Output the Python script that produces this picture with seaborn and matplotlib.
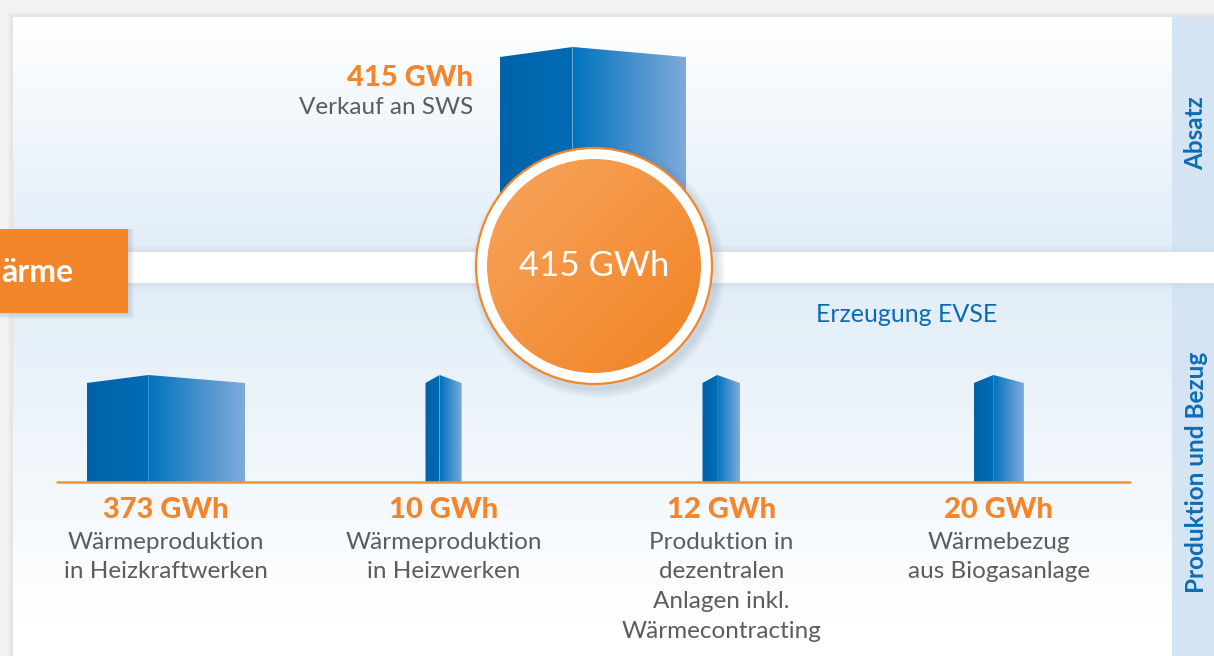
import numpy as np
import seaborn as sns
import matplotlib.pyplot as plt
from matplotlib.colors import to_rgb
from matplotlib.patches import Rectangle, Circle, Polygon

# data
sales_label = "Verkauf an SWS"
sales_value = 415
source_names = ["Heizkraftwerke", "Heizwerke", "Dezentral", "Biogas"]
source_labels = ["Wärmeproduktion\nin Heizkraftwerken",
                 "Wärmeproduktion\nin Heizwerken",
                 "Produktion in\ndezentralen\nAnlagen inkl.\nWärmecontracting",
                 "Wärmebezug\naus Biogasanlage"]
source_values = [373, 10, 12, 20]
unit = "GWh"

# styles
bar_widths = [0.57, 0.13, 0.135, 0.18]
ORANGE = "#f3862b"
BLUE_TXT = "#0a6cb5"
GRAY_TXT = "#5c5c5c"
W, H = 1214, 656

sns.set_theme(style="white")
plt.rcParams["font.family"] = ["Lato", "DejaVu Sans"]

fig = plt.figure(figsize=(W / 100, H / 100), dpi=100)
fig.patch.set_facecolor("#f3f3f3")


def px_axes(x0, y0, x1, y1):
    return fig.add_axes([x0 / W, 1 - y1 / H, (x1 - x0) / W, (y1 - y0) / H])


def grad(c0, c1, n=256, horizontal=False):
    a, b = np.array(to_rgb(c0)), np.array(to_rgb(c1))
    t = np.linspace(0, 1, n)[:, None]
    g = a + (b - a) * t
    return g[None, :, :] if horizontal else g[:, None, :]


bg = fig.add_axes([0, 0, 1, 1])
bg.set_xlim(0, W)
bg.set_ylim(H, 0)
bg.set_axis_off()

# panel shadow
for k in range(6):
    bg.add_patch(Rectangle((13 - k, 17 - k), W, H, color="#d8d8d8", alpha=0.12, lw=0))
# upper / lower panels
bg.imshow(grad("#ffffff", "#e1edf8"), extent=(13, 1172, 252, 17), aspect="auto", zorder=1)
bg.imshow(grad("#e1edf8", "#ffffff"), extent=(13, 1172, 620, 283), aspect="auto", zorder=1)
bg.add_patch(Rectangle((13, 620), 1160, 40, color="white", lw=0, zorder=1))
# side column
bg.add_patch(Rectangle((1172, 17), 50, 235, color="#d4e4f3", lw=0, zorder=1))
bg.add_patch(Rectangle((1172, 283), 50, 380, color="#d4e4f3", lw=0, zorder=1))
bg.text(1196, 133, "Absatz", rotation=90, ha="center", va="center",
        color="#0b6db6", fontsize=17.5, fontweight="bold", zorder=3)
bg.text(1196, 472, "Produktion und Bezug", rotation=90, ha="center", va="center",
        color="#0b6db6", fontsize=17.5, fontweight="bold", zorder=3)
# white band with soft shadow
for k in range(1, 8):
    bg.add_patch(Rectangle((13, 252 - k), W, 31 + 2 * k, color="#c8d2dc", alpha=0.05, lw=0, zorder=2))
bg.add_patch(Rectangle((13, 252), W, 31, color="white", lw=0, zorder=2))

ax_top = px_axes(407, 40, 779, 252)
ax_low = px_axes(57, 360, 1130, 482)


def draw_blocks(ax, drop):
    for p in ax.patches:
        x0, w, h = p.get_x(), p.get_width(), p.get_height()
        s = x0 + w * 0.39
        p.set_visible(False)
        left = Polygon([(x0, 0), (x0, h * (1 - drop)), (s, h), (s, 0)],
                       closed=True, facecolor="none", lw=0)
        ax.add_patch(left)
        lim = ax.imshow(grad("#0062a9", "#006cb6", horizontal=True),
                        extent=(x0, s, 0, h), aspect="auto", zorder=2)
        lim.set_clip_path(left)
        right = Polygon([(s, 0), (s, h), (x0 + w, h * (1 - drop)), (x0 + w, 0)],
                        closed=True, facecolor="none", lw=0)
        ax.add_patch(right)
        im = ax.imshow(grad("#0073bd", "#80abdb", horizontal=True),
                       extent=(s, x0 + w, 0, h), aspect="auto", zorder=2)
        im.set_clip_path(right)


# top bar (sales)
sns.barplot(x=[sales_label], y=[1.0], ax=ax_top, color="#0070b8", width=1.0)
draw_blocks(ax_top, 0.049)
ax_top.set_xlim(-1, 1)
ax_top.set_ylim(0, 1.034)
ax_top.set_axis_off()

# production bars
sns.barplot(x=source_names, y=[1.0] * len(source_names), ax=ax_low, color="#0070b8")
for i, (p, bw) in enumerate(zip(ax_low.patches, bar_widths)):
    p.set_width(bw)
    p.set_x(i - bw / 2)
draw_blocks(ax_low, 0.075)
ax_low.axhline(0, color="#f39231", lw=1.8, zorder=3, clip_on=False)
ax_low.set_xlim(-0.392, 3.472)
ax_low.set_ylim(0, 1.14)
ax_low.set_axis_off()
ax_low.patch.set_alpha(0)

for i, (v, lab) in enumerate(zip(source_values, source_labels)):
    ax_low.annotate(f"{v} {unit}", xy=(i, 0), xytext=(0, -20.5), textcoords="offset points",
                    ha="center", va="center", color=ORANGE, fontsize=21,
                    fontweight="black", annotation_clip=False)
    ax_low.annotate(lab, xy=(i, 0), xytext=(0, -36), textcoords="offset points",
                    ha="center", va="top", color=GRAY_TXT, fontsize=17.5,
                    fontweight="normal", linespacing=1.5, annotation_clip=False)

# overlay: circle, orange tab, labels
ov = fig.add_axes([0, 0, 1, 1])
ov.set_xlim(0, W)
ov.set_ylim(H, 0)
ov.set_axis_off()
ov.patch.set_alpha(0)

cx, cy = 594, 266
for k in range(1, 10):
    ov.add_patch(Circle((cx + 4, cy + 5), 118 + k, color="#607080", alpha=0.025, lw=0, zorder=1))
ov.add_patch(Circle((cx, cy), 118, facecolor="white", edgecolor=ORANGE, lw=1.6, zorder=2))
inner = Circle((cx, cy), 107, facecolor="none", lw=0, zorder=2)
ov.add_patch(inner)
yy, xx = np.mgrid[0:1:200j, 0:1:200j]
t = np.clip((xx + yy) / 2, 0, 1)[..., None]
c0, c1 = np.array(to_rgb("#f7a55e")), np.array(to_rgb("#f28223"))
cim = ov.imshow(c0 + (c1 - c0) * t, extent=(cx - 107, cx + 107, cy + 107, cy - 107),
                aspect="auto", zorder=3)
cim.set_clip_path(inner)
ov.text(cx, cy, f"{sales_value} {unit}", ha="center", va="center", color="white",
        fontsize=25, fontweight="normal", zorder=4)

ov.text(473, 78, f"{sales_value} {unit}", ha="right", va="center", color=ORANGE,
        fontsize=21, fontweight="black")
ov.text(473, 108, sales_label, ha="right", va="center", color=GRAY_TXT,
        fontsize=17.5, fontweight="normal")
ov.text(907, 315, "Erzeugung EVSE", ha="center", va="center", color=BLUE_TXT,
        fontsize=18)

for k in range(1, 7):
    ov.add_patch(Rectangle((-5, 229), 133 + k, 84 + k, color="#7088a0", alpha=0.05, lw=0))
ov.add_patch(Rectangle((-5, 229), 133, 84, color=ORANGE, lw=0))
ov.text(1, 272, "ärme", ha="left", va="center", color="white", fontsize=23, fontweight="bold")

plt.savefig("out.png", dpi=100, facecolor=fig.get_facecolor())
